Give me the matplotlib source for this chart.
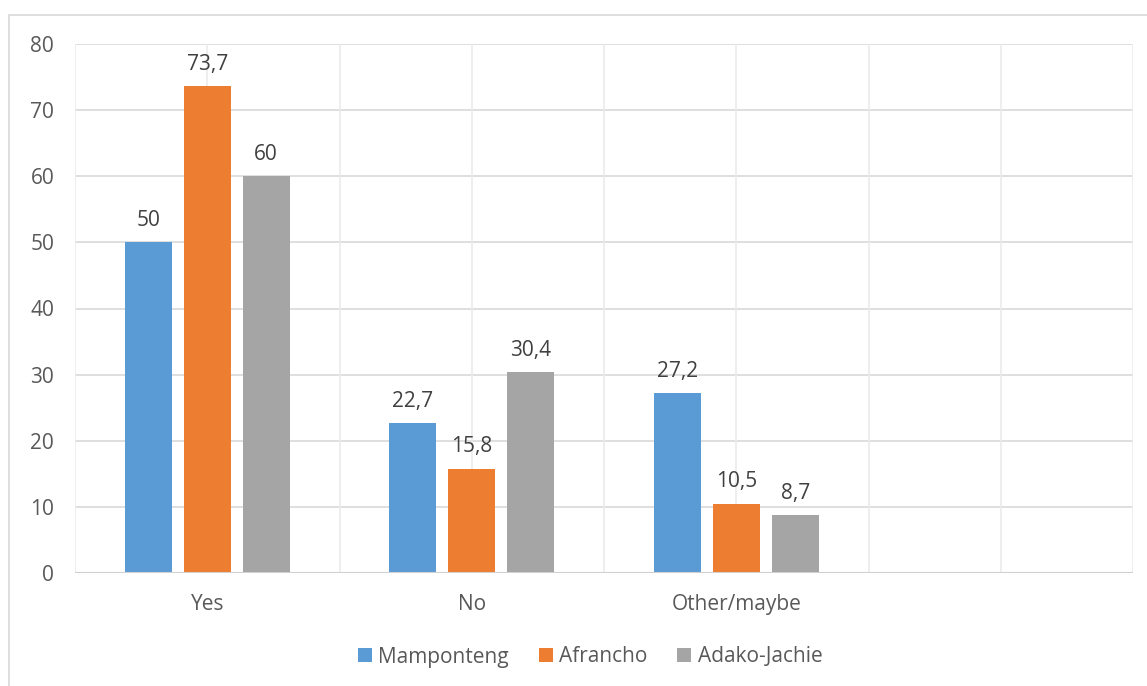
import numpy as np
import matplotlib
matplotlib.use("Agg")
import matplotlib.pyplot as plt
from matplotlib.patches import Rectangle

plt.rcParams["font.family"] = ["Open Sans", "DejaVu Sans"]

# ── data ──
categories = ["Yes", "No", "Other/maybe", ""]
series_names = ["Mamponteng", "Afrancho", "Adako-Jachie"]
mamponteng = [50, 22.7, 27.2]
afrancho = [73.7, 15.8, 10.5]
adako_jachie = [60, 30.4, 8.7]
colors = ["#5B9BD5", "#ED7D31", "#A5A5A5"]

series = [mamponteng, afrancho, adako_jachie]

fig = plt.figure(figsize=(11.47, 6.86), dpi=100)
ax = fig.add_axes([75 / 1147, 1 - 573 / 686, 1058 / 1147, 529 / 686])

# outer chart border (cropped at right/bottom like the original)
fig.patches.append(Rectangle((9 / 1147, -0.05), 1.2, 1 - 15 / 686 + 0.05,
                             transform=fig.transFigure, fill=False,
                             edgecolor="#D9D9D9", lw=1.2))

width = 0.176
pitch = 0.223
x = np.arange(len(mamponteng))
for i, (vals, name, c) in enumerate(zip(series, series_names, colors)):
    bars = ax.bar(x + (i - 1) * pitch, vals, width=width, color=c, label=name, zorder=3)
    for b, v in zip(bars, vals):
        lbl = f"{v:g}".replace(".", ",")
        ax.annotate(lbl, (b.get_x() + b.get_width() / 2, v), xytext=(0, 8),
                    textcoords="offset points", ha="center", va="bottom",
                    fontsize=15, color="#404040")

ax.set_xlim(-0.5, len(categories) - 0.5)
ax.set_ylim(0, 80)
ax.set_yticks(range(0, 81, 10))
ax.set_xticks(range(len(categories)))
ax.set_xticklabels(categories)

# gridlines: horizontal at ticks, vertical every half category
for y in range(10, 81, 10):
    ax.axhline(y, color="#D9D9D9", lw=1.2, zorder=1)
for gx in np.arange(0, len(categories) + 0.01, 0.5) - 0.5:
    ax.axvline(gx, color="#EBEBEB", lw=1.2, zorder=1)
ax.axhline(0, color="#D0D0D0", lw=1.5, zorder=4)

for s in ax.spines.values():
    s.set_visible(False)
ax.tick_params(length=0, labelsize=15, labelcolor="#595959")
ax.tick_params(axis="y", pad=15)
ax.tick_params(axis="x", pad=15)

fig.legend(loc="center", bbox_to_anchor=(590 / 1147, 1 - 657 / 686), ncol=3,
           frameon=False, fontsize=15, labelcolor="#595959",
           handlelength=0.67, handleheight=0.67, handletextpad=0.3,
           columnspacing=1.45)

fig.savefig("out.png", dpi=100)
